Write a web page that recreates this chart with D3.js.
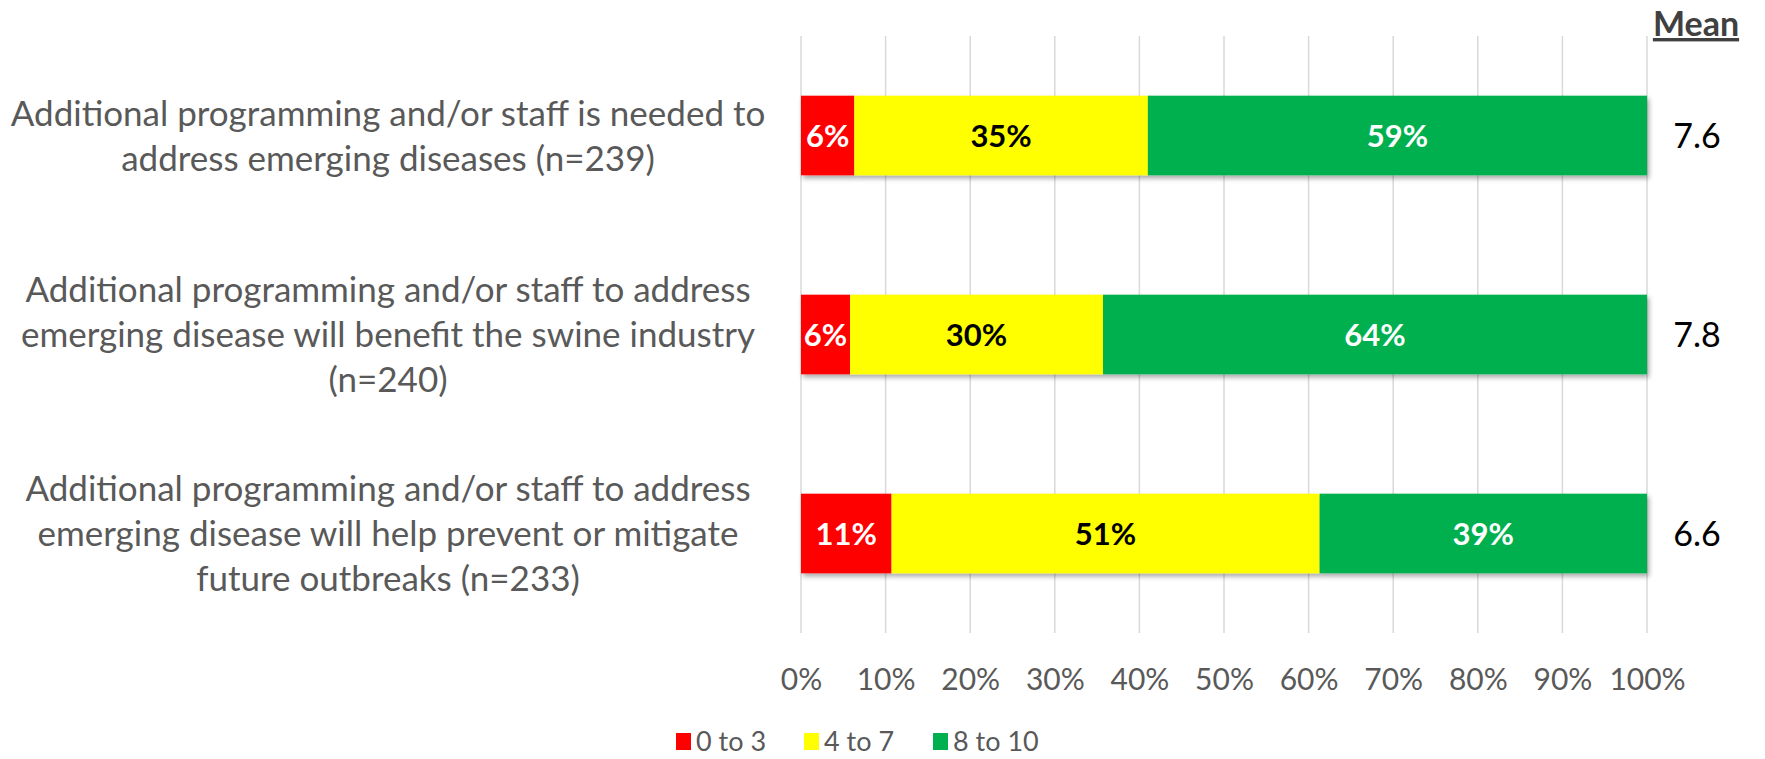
<!DOCTYPE html>
<html>
<head>
<meta charset="utf-8">
<script src="https://cdn.jsdelivr.net/npm/d3@7"></script>
<style>
  body { margin: 0; background: #fff; }
  svg text { font-family: Lato, "Open Sans", sans-serif; }
</style>
</head>
<body>
<div class="container"></div>
<script>
var categories = [
  ['Additional programming and/or staff is needed to', 'address emerging diseases (n=239)'],
  ['Additional programming and/or staff to address', 'emerging disease will benefit the swine industry', '(n=240)'],
  ['Additional programming and/or staff to address', 'emerging disease will help prevent or mitigate', 'future outbreaks (n=233)']
];
var low = [6.3, 5.8, 10.7];      // 0 to 3
var mid = [34.7, 29.9, 50.6];    // 4 to 7
var high = [59.0, 64.3, 38.7];   // 8 to 10
var means = ['7.6', '7.8', '6.6'];
var seriesNames = ['0 to 3', '4 to 7', '8 to 10'];
var tickValues = [0, 10, 20, 30, 40, 50, 60, 70, 80, 90, 100];

var colors = ['#FF0000', '#FFFF00', '#00B050'];
var labelColors = ['#FFFFFF', '#000000', '#FFFFFF'];

var width = 1765, height = 759;
var gray = '#595959';

var svg = d3.select('.container').append('svg')
    .attr('width', width)
    .attr('height', height);

// drop shadow like the office chart
var defs = svg.append('defs');
var filter = defs.append('filter').attr('id', 'shadow')
    .attr('x', '-5%').attr('y', '-20%').attr('width', '115%').attr('height', '150%');
filter.append('feDropShadow')
    .attr('dx', 2).attr('dy', 3).attr('stdDeviation', 2.5)
    .attr('flood-color', '#000').attr('flood-opacity', 0.35);

var x = d3.scaleLinear().domain([0, 100]).range([801, 1647]);
var y = d3.scaleBand().domain(d3.range(categories.length)).range([36, 633]).paddingInner(0.6).paddingOuter(0.3);

// gridlines
svg.append('g')
    .attr('stroke', '#D9D9D9')
    .attr('stroke-width', 1.5)
  .selectAll('line')
  .data(tickValues)
  .enter().append('line')
    .attr('x1', function(d) { return x(d); })
    .attr('x2', function(d) { return x(d); })
    .attr('y1', 36)
    .attr('y2', 633);

// axis tick labels
var axis = svg.append('g')
    .attr('transform', 'translate(0,666)')
    .call(d3.axisBottom(x).tickValues(tickValues).tickSize(0).tickFormat(function(d) { return d + '%'; }));
axis.select('.domain').remove();
axis.selectAll('text')
    .attr('fill', gray)
    .style('font-size', '30px');

// stacked data
var rows = categories.map(function(c, i) {
  return { i: i, values: [low[i], mid[i], high[i]] };
});

var bar = svg.append('g').selectAll('g')
  .data(rows)
  .enter().append('g')
    .attr('transform', function(d) { return 'translate(0,' + y(d.i) + ')'; });

bar.append('g')
    .attr('filter', 'url(#shadow)')
  .selectAll('rect')
  .data(function(d) {
    var acc = 0;
    return d.values.map(function(v, k) {
      var s = { k: k, v: v, x0: acc, x1: acc + v };
      acc += v;
      return s;
    });
  })
  .enter().append('rect')
    .attr('x', function(d) { return x(d.x0); })
    .attr('width', function(d) { return x(d.x1) - x(d.x0); })
    .attr('height', y.bandwidth())
    .attr('fill', function(d) { return colors[d.k]; });

bar.selectAll('text.val')
  .data(function(d) {
    var acc = 0;
    return d.values.map(function(v, k) {
      var s = { k: k, v: v, mid: acc + v / 2 };
      acc += v;
      return s;
    });
  })
  .enter().append('text')
    .attr('class', 'val')
    .attr('x', function(d) { return x(d.mid); })
    .attr('y', y.bandwidth() / 2)
    .attr('dy', '0.36em')
    .attr('text-anchor', 'middle')
    .attr('fill', function(d) { return labelColors[d.k]; })
    .style('font-size', '31px')
    .style('font-weight', 'bold')
    .text(function(d) { return d3.format('.0f')(d.v) + '%'; });

// means
bar.append('text')
    .attr('x', 1697)
    .attr('y', y.bandwidth() / 2)
    .attr('dy', '0.36em')
    .attr('text-anchor', 'middle')
    .attr('fill', '#000')
    .style('font-size', '34px')
    .text(function(d) { return means[d.i]; });

svg.append('text')
    .attr('x', 1696)
    .attr('y', 36)
    .attr('text-anchor', 'middle')
    .attr('fill', '#404040')
    .style('font-size', '34px')
    .style('font-weight', 'bold')
    .style('text-decoration', 'underline')
    .text('Mean');

// category labels
var lineH = 45;
bar.each(function(d) {
  var lines = categories[d.i];
  var t = d3.select(this).append('text')
      .attr('text-anchor', 'middle')
      .attr('fill', gray)
      .style('font-size', '35px');
  lines.forEach(function(l, j) {
    t.append('tspan')
      .attr('x', 388)
      .attr('y', y.bandwidth() / 2 + (j - (lines.length - 1) / 2) * lineH)
      .attr('dy', '0.36em')
      .text(l);
  });
});

// legend
var legend = svg.append('g').attr('transform', 'translate(0,741)');
var legX = [676, 804, 933];
var item = legend.selectAll('g')
  .data(seriesNames)
  .enter().append('g')
    .attr('transform', function(d, i) { return 'translate(' + legX[i] + ',0)'; });
item.append('rect')
    .attr('x', 0).attr('y', -8)
    .attr('width', 15).attr('height', 17)
    .attr('fill', function(d, i) { return colors[i]; });
item.append('text')
    .attr('x', 20)
    .attr('dy', '0.36em')
    .attr('fill', gray)
    .style('font-size', '27px')
    .text(function(d) { return d; });
</script>
</body>
</html>
